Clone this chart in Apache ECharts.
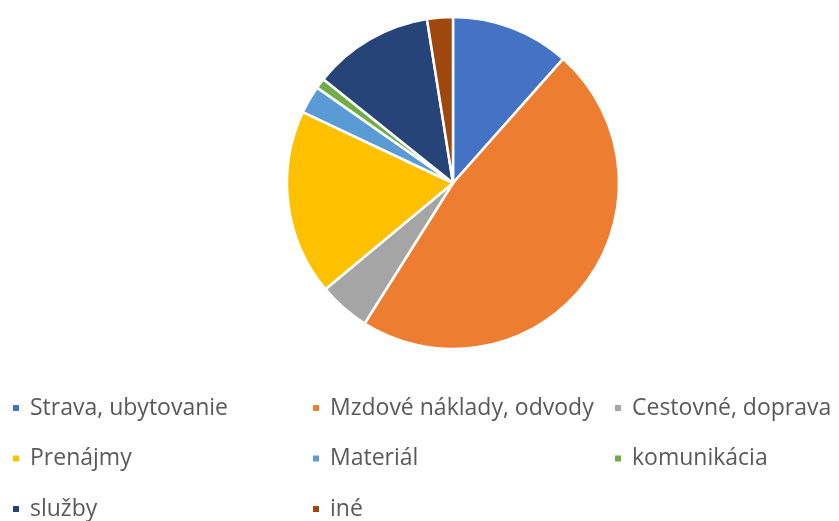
<!DOCTYPE html>
<html>
<head>
<meta charset="utf-8">
<script src="https://cdn.jsdelivr.net/npm/echarts@6/dist/echarts.min.js"></script>
<style>
html,body{margin:0;padding:0;background:#fff;}
#main{width:839px;height:521px;}
</style>
</head>
<body>
<div id="main"></div>
<script>
const categories = ["Strava, ubytovanie","Mzdové náklady, odvody","Cestovné, doprava","Prenájmy","Materiál","komunikácia","služby","iné"];
const values = [11.5, 47.2, 5.0, 18.0, 2.7, 1.0, 11.7, 2.5];
const colors = ["#4472C4","#ED7D31","#A5A5A5","#FFC000","#5B9BD5","#70AD47","#264478","#9E480E"];
const legendCol1 = ["Strava, ubytovanie","Prenájmy","služby"];
const legendCol2 = ["Mzdové náklady, odvody","Materiál","iné"];
const legendCol3 = ["Cestovné, doprava","komunikácia"];

const chart = echarts.init(document.getElementById('main'));
function legendAt(left, data){
  return {
    data: data,
    orient: 'vertical',
    left: left,
    top: 396,
    height: 130,
    padding: 0,
    icon: 'rect',
    itemWidth: 8,
    itemHeight: 8,
    itemGap: 26.5,
    selectedMode: false,
    textStyle: {
      fontFamily: 'Open Sans',
      fontSize: 23,
      color: '#595959',
      lineHeight: 24,
      padding: [0,0,0,5]
    }
  };
}
chart.setOption({
  animation: false,
  color: colors,
  legend: [legendAt(11, legendCol1), legendAt(311, legendCol2), legendAt(613, legendCol3)],
  series: [{
    type: 'pie',
    center: [453, 183],
    radius: 166,
    startAngle: 90,
    clockwise: true,
    label: {show: false},
    labelLine: {show: false},
    itemStyle: {borderColor: '#fff', borderWidth: 2.5},
    emphasis: {disabled: true},
    data: categories.map((c, i) => ({name: c, value: values[i]}))
  }]
});
</script>
</body>
</html>
